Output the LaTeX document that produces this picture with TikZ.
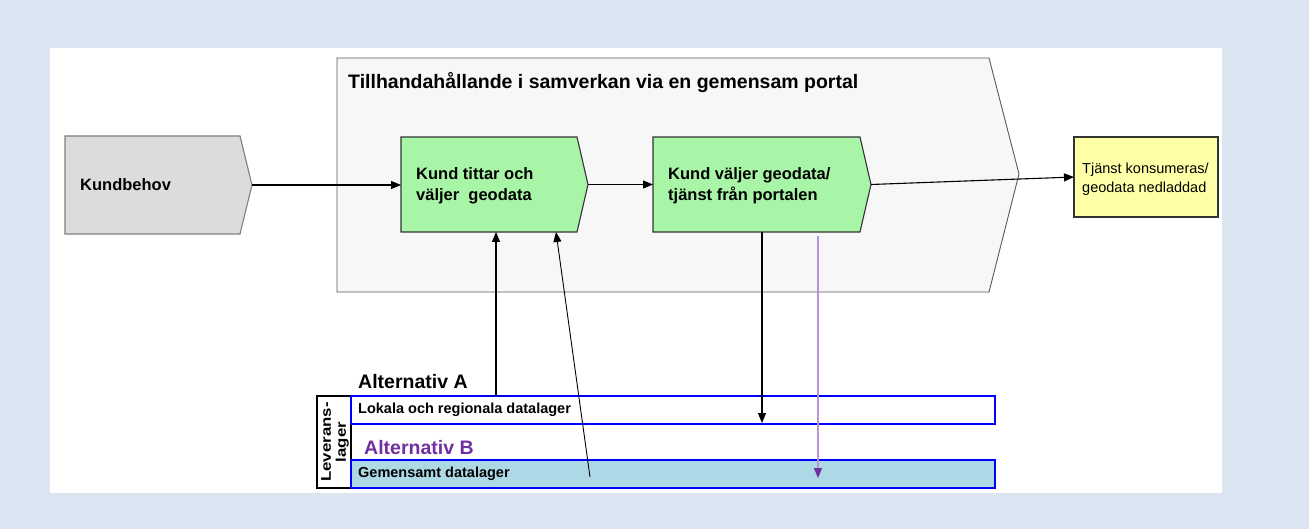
\documentclass[tikz,border=0pt]{standalone}
\usepackage{fontspec}
\setmainfont{Liberation Sans}
\usetikzlibrary{arrows.meta}
\definecolor{bgblue}{HTML}{DCE6F2}
\definecolor{kbgray}{HTML}{DCDCDC}
\definecolor{portalgray}{HTML}{F7F7F7}
\definecolor{stepgreen}{HTML}{A8F5A8}
\definecolor{resyellow}{HTML}{FFFFA8}
\definecolor{layerblue}{HTML}{ADD8E6}
\definecolor{altpurple}{HTML}{7030A0}
\definecolor{lightpurple}{HTML}{B496D8}
\tikzset{
  frame/.style={draw=none, inner sep=0pt, outer sep=0pt, anchor=north west},
  chev/.style={line width=1.1pt, line join=miter},
  arr/.style={line width=1.1pt, -{Triangle[length=10pt,width=8pt]}},
  boldtxt/.style={font=\fontsize{16.5}{21}\selectfont\bfseries, anchor=base west, align=left, inner sep=0pt},
  layerbox/.style={frame, draw=blue, line width=1.2pt},
  layertxt/.style={font=\fontsize{14.5}{17}\selectfont\bfseries, anchor=west, inner sep=0pt},
  alttxt/.style={font=\fontsize{19.5}{22}\selectfont\bfseries, anchor=base west, inner sep=0pt},
}
\begin{document}
\begin{tikzpicture}[x=1pt, y=-1pt]
\useasboundingbox (0,0) rectangle (1309,529);
\fill[bgblue] (0,0) rectangle (1309,529);
\fill[white] (50,48) rectangle (1222,493);

% portal (big chevron)
\node[frame, minimum width=682pt, minimum height=234pt] (portal) at (337,58) {};
\draw[chev, draw=black!65, line width=0.9pt, fill=portalgray]
  (portal.north west) -- ([xshift=-30pt]portal.north east) -- ([yshift=1pt]portal.east)
  -- ([xshift=-30pt]portal.south east) -- (portal.south west) -- cycle;
\node[alttxt] at (348,89) {Tillhandahållande i samverkan via en gemensam portal};

% Kundbehov
\node[frame, minimum width=187pt, minimum height=98pt] (kb) at (65,136) {};
\draw[chev, draw=black!50, fill=kbgray]
  (kb.north west) -- ([xshift=-12pt]kb.north east) -- (kb.east)
  -- ([xshift=-12pt]kb.south east) -- (kb.south west) -- cycle;
\node[boldtxt] at (80,191) {Kundbehov};

% step 1
\node[frame, minimum width=187pt, minimum height=95pt] (b1) at (401,137) {};
\draw[chev, draw=black!80, fill=stepgreen]
  (b1.north west) -- ([xshift=-11pt]b1.north east) -- (b1.east)
  -- ([xshift=-11pt]b1.south east) -- (b1.south west) -- cycle;
\node[boldtxt] at (416,201) {Kund tittar och\\väljer\ \ geodata};

% step 2
\node[frame, minimum width=218pt, minimum height=95pt] (b2) at (653,137) {};
\draw[chev, draw=black!80, fill=stepgreen]
  (b2.north west) -- ([xshift=-11pt]b2.north east) -- (b2.east)
  -- ([xshift=-11pt]b2.south east) -- (b2.south west) -- cycle;
\node[boldtxt] at (668,201) {Kund väljer geodata/\\tjänst från portalen};

% result
\node[frame, draw=black!80, line width=1.1pt, fill=resyellow, minimum width=144pt, minimum height=80pt] (res) at (1074,137) {};
\node[font=\fontsize{14.5}{19}\selectfont, anchor=base west, align=left, inner sep=0pt] at (1082,193) {Tjänst konsumeras/\\geodata nedladdad};

% layers
\node[frame, draw=black, line width=1.1pt, minimum width=34pt, minimum height=92pt] (lev) at (317,396) {};
\node[font=\fontsize{14}{17}\selectfont\bfseries, rotate=90, inner sep=0pt] at ([xshift=1pt]lev.center)
  {\scalebox{1.2}[1]{\begin{tabular}{@{}c@{}}Leverans-\\[-2pt]lager\end{tabular}}};
\node[layerbox, fill=white, minimum width=644pt, minimum height=28pt] (lok) at (351,396) {};
\node[layertxt] at (358,410) {Lokala och regionala datalager};
\node[layerbox, fill=layerblue, minimum width=644pt, minimum height=28pt] (gem) at (351,460) {};
\node[layertxt] at (358,474) {Gemensamt datalager};

\node[alttxt] at (358,388) {Alternativ A};
\node[alttxt, text=altpurple] at (364,454) {Alternativ B};

% helper coordinates
\coordinate (xa) at (496,0);
\coordinate (xb) at (556,232);
\coordinate (gemsrc) at (590,477);
\coordinate (xc) at (762,0);
\coordinate (lokend) at (762,423);
\coordinate (xd) at (818,0);
\coordinate (gemend) at (818,478);

% connectors
\draw[arr] (kb.east) -- (b1.west |- kb.east);
\draw[arr] (b1.east) -- (b2.west |- b1.east);
\draw[arr] (b2.east) -- (res.west);
\draw[arr] (lok.north -| xa) -- (b1.south -| xa);
\draw[arr, line width=0.9pt] (gemsrc) -- (xb);
\draw[arr] (b2.south -| xc) -- (lokend);
\draw[line width=1.3pt, lightpurple, -{Triangle[length=10pt,width=8pt,color=altpurple]}] ([yshift=-4pt]b2.south -| xd) -- (gemend);
\end{tikzpicture}
\end{document}
